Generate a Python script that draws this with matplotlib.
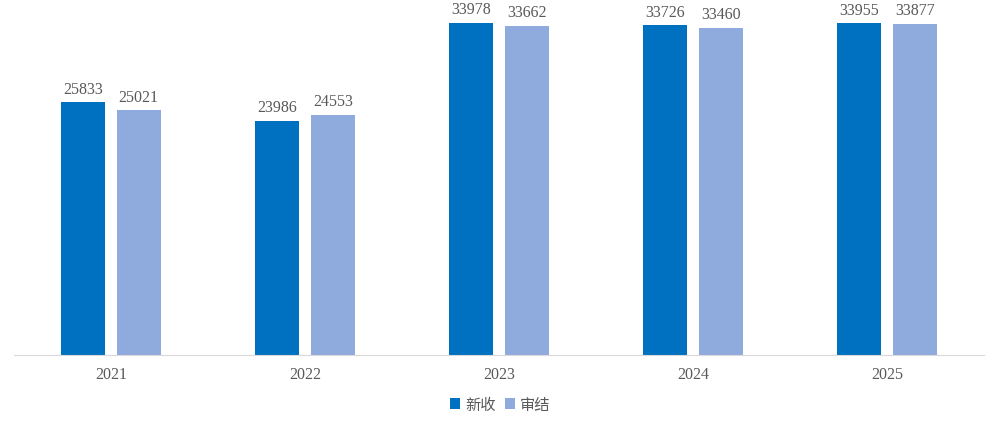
import matplotlib.pyplot as plt
import numpy as np

years = ["2021", "2022", "2023", "2024", "2025"]
xinshou = [25833, 23986, 33978, 33726, 33955]
shenjie = [25021, 24553, 33662, 33460, 33877]

plt.rcParams['font.family'] = ['Noto Sans CJK SC', 'DejaVu Sans']

fig = plt.figure(figsize=(10, 4.27), dpi=100)
ax = fig.add_axes([0.014, 0.1665, 0.97, 0.801])

x = np.arange(len(years))
w = 0.226
off = 0.143
b1 = ax.bar(x - off, xinshou, w, color="#0070C0", label="新收")
b2 = ax.bar(x + off, shenjie, w, color="#8FAADC", label="审结")

for bars in (b1, b2):
    for rect in bars:
        h = rect.get_height()
        ax.annotate(str(int(h)), (rect.get_x() + rect.get_width() / 2, h),
                    xytext=(0, 4), textcoords="offset points", ha="center", va="bottom",
                    fontsize=11.5, color="#595959", family="Liberation Serif")

ax.set_xlim(-0.5, 4.5)
ax.set_ylim(0, 35000)
ax.set_xticks(x)
ax.set_xticklabels(years, family="Liberation Serif", fontsize=11.5, color="#595959")
ax.tick_params(axis="x", length=0, pad=8)
ax.set_yticks([])
for s in ["top", "right", "left"]:
    ax.spines[s].set_visible(False)
ax.spines["bottom"].set_color("#D9D9D9")

fig.legend(loc="center", bbox_to_anchor=(0.5, 0.05), ncol=2, frameon=False,
           fontsize=11, handlelength=0.7, handleheight=0.7, handletextpad=0.3,
           columnspacing=0.6, labelcolor="#595959")

plt.savefig("out.png")
